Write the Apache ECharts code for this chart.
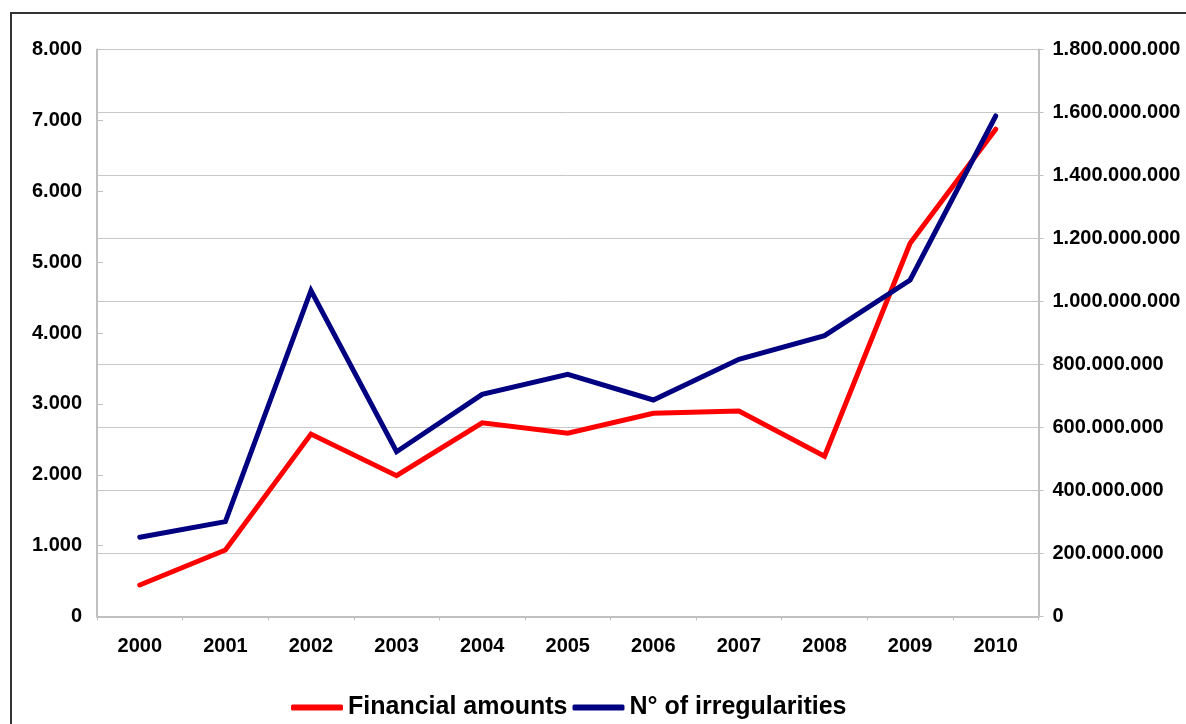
<!DOCTYPE html>
<html>
<head>
<meta charset="utf-8">
<script src="https://cdn.jsdelivr.net/npm/echarts@6/dist/echarts.min.js"></script>
<style>
html,body{margin:0;padding:0;background:#fff;}
#c{width:1186px;height:724px;}
</style>
</head>
<body>
<div id="c"></div>
<script>
const years = ['2000','2001','2002','2003','2004','2005','2006','2007','2008','2009','2010'];
const financialAmounts = [100000000, 211000000, 579000000, 447000000, 615000000, 582000000, 645000000, 652000000, 509000000, 1185000000, 1547000000];
const irregularities = [1117, 1338, 4600, 2325, 3135, 3417, 3055, 3629, 3962, 4748, 7062];
const seriesNames = ['Financial amounts', 'N° of irregularities'];

function fmt(v){ return String(v).replace(/\B(?=(\d{3})+(?!\d))/g, '.'); }

const labelFont = {color:'#000', fontFamily:'"Liberation Sans", Arial, sans-serif', fontWeight:'bold', fontSize:20};
const chart = echarts.init(document.getElementById('c'), null, {renderer:'canvas'});
chart.setOption({
  animation:false,
  backgroundColor:'#fff',
  graphic:[{
    type:'rect', silent:true,
    shape:{x:11, y:13, width:1300, height:900},
    style:{fill:'none', stroke:'#333', lineWidth:2}
  }],
  grid:{left:97, right:147.5, top:49.5, bottom:107.5, containLabel:false},
  legend:{
    left:291, top:695, padding:0,
    itemWidth:52, itemHeight:6, itemGap:5,
    icon:'roundRect',
    textStyle:{color:'#000', fontFamily:'"Liberation Sans", Arial, sans-serif', fontWeight:'bold', fontSize:25},
    data:seriesNames
  },
  xAxis:{
    type:'category', data:years, boundaryGap:true,
    axisLine:{lineStyle:{color:'#c0c0c0', width:2}},
    axisTick:{show:true, length:4, lineStyle:{color:'#c0c0c0', width:1}},
    axisLabel:Object.assign({margin:20}, labelFont),
    splitLine:{show:false}
  },
  yAxis:[{
    type:'value', position:'left', min:0, max:8000, interval:1000,
    axisLine:{show:true, lineStyle:{color:'#c0c0c0', width:2}},
    axisTick:{show:true, inside:true, length:6, lineStyle:{color:'#c0c0c0', width:1}},
    axisLabel:Object.assign({margin:15, formatter:fmt}, labelFont),
    splitLine:{show:false}
  },{
    type:'value', position:'right', min:0, max:1800000000, interval:200000000,
    axisLine:{show:true, lineStyle:{color:'#c0c0c0', width:2}},
    axisTick:{show:true, length:5, lineStyle:{color:'#c0c0c0', width:1}},
    axisLabel:Object.assign({margin:14, formatter:fmt}, labelFont),
    splitLine:{show:true, lineStyle:{color:'#c8c8c8', width:1}}
  }],
  series:[{
    name:seriesNames[0], type:'line', yAxisIndex:1, data:financialAmounts,
    symbol:'none', color:'#ff0000',
    lineStyle:{color:'#ff0000', width:5, cap:'round', join:'miter'}
  },{
    name:seriesNames[1], type:'line', yAxisIndex:0, data:irregularities,
    symbol:'none', color:'#000080',
    lineStyle:{color:'#000080', width:5, cap:'round', join:'miter'}
  }]
});
</script>
</body>
</html>
